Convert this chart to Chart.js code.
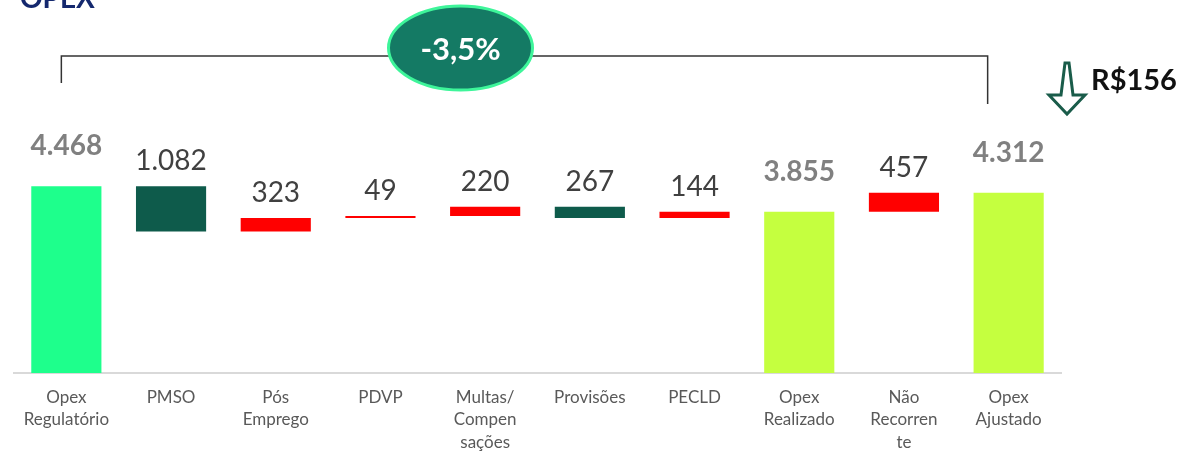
<!DOCTYPE html>
<html>
<head>
<meta charset="utf-8">
<script src="https://cdn.jsdelivr.net/npm/chart.js@4"></script>
<style>
  html, body { margin: 0; padding: 0; background: #fff; }
  #wrap { width: 1201px; height: 455px; position: relative; }
</style>
</head>
<body>
<div id="wrap"><canvas id="myChart"></canvas></div>
<script>
// categorias e valores (R$ milhões)
const categories = [['Opex', 'Regulatório'], 'PMSO', ['Pós', 'Emprego'], 'PDVP',
    ['Multas/', 'Compen', 'sações'], 'Provisões', 'PECLD', ['Opex', 'Realizado'],
    ['Não', 'Recorren', 'te'], ['Opex', 'Ajustado']]
const values = [4468, -1082, 323, 49, 220, -267, 144, 3855, 457, 4312]
const kinds = ['start', 'down', 'up', 'up', 'up', 'down', 'up', 'total', 'up', 'total']
const valueLabels = ['4.468', '1.082', '323', '49', '220', '267', '144', '3.855', '457', '4.312']
const variation = '-3,5%'
const savings = 'R$156'

const colors = { start: '#1eff8c', down: '#0e5b4b', up: '#ff0000', total: '#c5ff3f' }

// monta as barras flutuantes do waterfall
let running = 0
const floating = values.map((v, i) => {
    if (kinds[i] === 'start' || kinds[i] === 'total') {
        running = v
        return [0, v]
    }
    const from = running
    running += v
    return [from, running]
})

const canvas = document.getElementById('myChart')
Chart.defaults.font.family = 'Lato, sans-serif'

const valueLabelPlugin = {
    id: 'valueLabels',
    afterDatasetsDraw(chart) {
        const ctx = chart.ctx
        const meta = chart.getDatasetMeta(0)
        ctx.save()
        ctx.textAlign = 'center'
        ctx.textBaseline = 'middle'
        meta.data.forEach((bar, i) => {
            const top = Math.min(bar.y, bar.base)
            const isTotal = kinds[i] === 'start' || kinds[i] === 'total'
            if (isTotal) {
                ctx.font = 'bold 28px Lato, sans-serif'
                ctx.fillStyle = '#808080'
                ctx.fillText(valueLabels[i], bar.x, top - 40)
            } else {
                ctx.font = '28px Lato, sans-serif'
                ctx.fillStyle = '#404040'
                ctx.fillText(valueLabels[i], bar.x, top - 25)
            }
        })
        ctx.restore()
    }
}

const annotationPlugin = {
    id: 'annotations',
    afterDraw(chart) {
        const ctx = chart.ctx
        const x = chart.scales.x
        const left = x.getPixelForValue(0) - 5
        const right = x.getPixelForValue(9) - 21
        ctx.save()

        // titulo cortado no topo
        ctx.font = 'bold 28px Lato, sans-serif'
        ctx.fillStyle = '#14286e'
        ctx.textAlign = 'left'
        ctx.textBaseline = 'alphabetic'
        ctx.fillText('OPEX', 20, 8)

        // colchete
        ctx.strokeStyle = '#333'
        ctx.lineWidth = 1.5
        ctx.beginPath()
        ctx.moveTo(left, 83)
        ctx.lineTo(left, 56)
        ctx.lineTo(right, 56)
        ctx.lineTo(right, 104)
        ctx.stroke()

        // elipse com a variação
        const cx = (left + right) / 2 - 64
        ctx.beginPath()
        ctx.ellipse(cx, 48, 72, 42, 0, 0, Math.PI * 2)
        ctx.fillStyle = '#147a64'
        ctx.fill()
        ctx.lineWidth = 3
        ctx.strokeStyle = '#3ef59a'
        ctx.stroke()
        ctx.fillStyle = '#fff'
        ctx.font = 'bold 31px Lato, sans-serif'
        ctx.textAlign = 'center'
        ctx.textBaseline = 'middle'
        ctx.fillText(variation, cx, 50)

        // seta para baixo
        const ax = 1067
        ctx.beginPath()
        ctx.moveTo(ax - 2, 63)
        ctx.lineTo(ax + 2, 63)
        ctx.lineTo(ax + 6, 95)
        ctx.lineTo(ax + 18, 95)
        ctx.lineTo(ax, 114)
        ctx.lineTo(ax - 18, 95)
        ctx.lineTo(ax - 6, 95)
        ctx.closePath()
        ctx.strokeStyle = '#1a5c4a'
        ctx.lineWidth = 3
        ctx.lineJoin = 'miter'
        ctx.stroke()

        ctx.fillStyle = '#111'
        ctx.font = 'bold 29px Lato, sans-serif'
        ctx.textAlign = 'left'
        ctx.fillText(savings, 1091, 81)
        ctx.restore()
    }
}

const config = {
    type: 'bar',
    data: {
        labels: categories,
        datasets: [{
            data: floating,
            backgroundColor: kinds.map(k => colors[k]),
            borderWidth: 0,
            barPercentage: 0.67,
            categoryPercentage: 1
        }]
    },
    options: {
        responsive: true,
        maintainAspectRatio: false,
        animation: false,
        layout: {
            padding: { top: 164, left: 14, right: 140, bottom: 0 }
        },
        plugins: {
            legend: { display: false },
            tooltip: { enabled: false }
        },
        scales: {
            x: {
                grid: { display: false, drawTicks: false },
                border: { display: true, color: '#d9d9d9', width: 2 },
                ticks: {
                    color: '#595959',
                    font: { size: 17, lineHeight: 1.32 },
                    padding: 13,
                    maxRotation: 0,
                    autoSkip: false
                },
                afterFit: axis => { axis.height = 82 }
            },
            y: {
                display: false,
                min: 0,
                max: 5000
            }
        }
    },
    plugins: [valueLabelPlugin, annotationPlugin]
}

new Chart(canvas, config)
</script>
</body>
</html>
